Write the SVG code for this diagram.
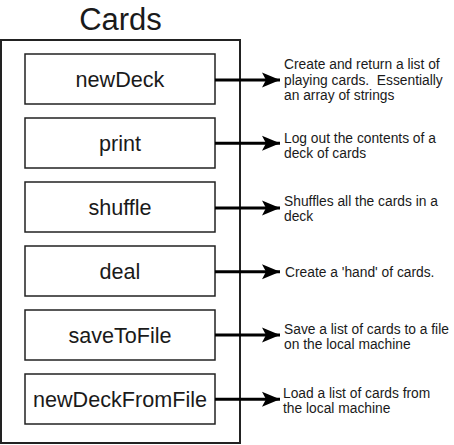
<svg xmlns="http://www.w3.org/2000/svg" width="454" height="445" viewBox="0 0 454 445">
<style>
.box{fill:#fff;stroke:#222;stroke-width:1.5}
.outer{fill:#fff;stroke:#222;stroke-width:2}
.lbl{font-family:"Liberation Sans",Arial,sans-serif;font-size:21.6px;fill:#1a1a1a;text-anchor:middle}
.title{font-family:"Liberation Sans",Arial,sans-serif;font-size:31px;fill:#1a1a1a;text-anchor:middle}
.desc{font-family:"Liberation Sans",Arial,sans-serif;font-size:13.8px;fill:#1a1a1a;white-space:pre}
.edge{stroke:#000;stroke-width:3;fill:none}
</style>
<defs>
<marker id="arr" markerUnits="userSpaceOnUse" markerWidth="20" markerHeight="18" refX="18" refY="8" orient="auto">
<path d="M18,8 L0,0.5 L4,8 L0,15.5 Z" fill="#000"/>
</marker>
</defs>
<g id="cards">
<rect class="outer" x="1" y="40" width="239" height="403"/>
<text class="title" x="120.5" y="30">Cards</text>
</g>
<g id="newDeck"><rect class="box" x="25" y="54" width="190" height="50"/><text class="lbl" x="120" y="87">newDeck</text></g>
<g id="print"><rect class="box" x="25" y="118" width="190" height="50"/><text class="lbl" x="120" y="151">print</text></g>
<g id="shuffle"><rect class="box" x="25" y="182" width="190" height="50"/><text class="lbl" x="120" y="215">shuffle</text></g>
<g id="deal"><rect class="box" x="25" y="246" width="190" height="50"/><text class="lbl" x="120" y="279">deal</text></g>
<g id="saveToFile"><rect class="box" x="25" y="310" width="190" height="50"/><text class="lbl" x="120" y="343">saveToFile</text></g>
<g id="newDeckFromFile"><rect class="box" x="25" y="374" width="190" height="50"/><text class="lbl" x="120" y="407">newDeckFromFile</text></g>
<g id="connectors">
<line class="edge" x1="215" y1="80" x2="280" y2="80" marker-end="url(#arr)"/>
<line class="edge" x1="215" y1="143.3" x2="280" y2="143.3" marker-end="url(#arr)"/>
<line class="edge" x1="215" y1="208" x2="280" y2="208" marker-end="url(#arr)"/>
<line class="edge" x1="215" y1="271.7" x2="280" y2="271.7" marker-end="url(#arr)"/>
<line class="edge" x1="215" y1="335" x2="280" y2="335" marker-end="url(#arr)"/>
<line class="edge" x1="215" y1="399.3" x2="280" y2="399.3" marker-end="url(#arr)"/>
</g>
<g id="notes">
<text class="desc" x="284" y="69.3">Create and return a list of</text>
<text class="desc" x="284" y="84.5" xml:space="preserve">playing cards.  Essentially</text>
<text class="desc" x="284" y="99.5">an array of strings</text>
<text class="desc" x="284" y="142.7">Log out the contents of a</text>
<text class="desc" x="284" y="157.7">deck of cards</text>
<text class="desc" x="284" y="205.7">Shuffles all the cards in a</text>
<text class="desc" x="284" y="220.7">deck</text>
<text class="desc" x="285" y="277">Create a 'hand' of cards.</text>
<text class="desc" x="284" y="333.5">Save a list of cards to a file</text>
<text class="desc" x="284" y="348.5">on the local machine</text>
<text class="desc" x="283" y="397.7">Load a list of cards from</text>
<text class="desc" x="283" y="412.7">the local machine</text>
</g>
</svg>
